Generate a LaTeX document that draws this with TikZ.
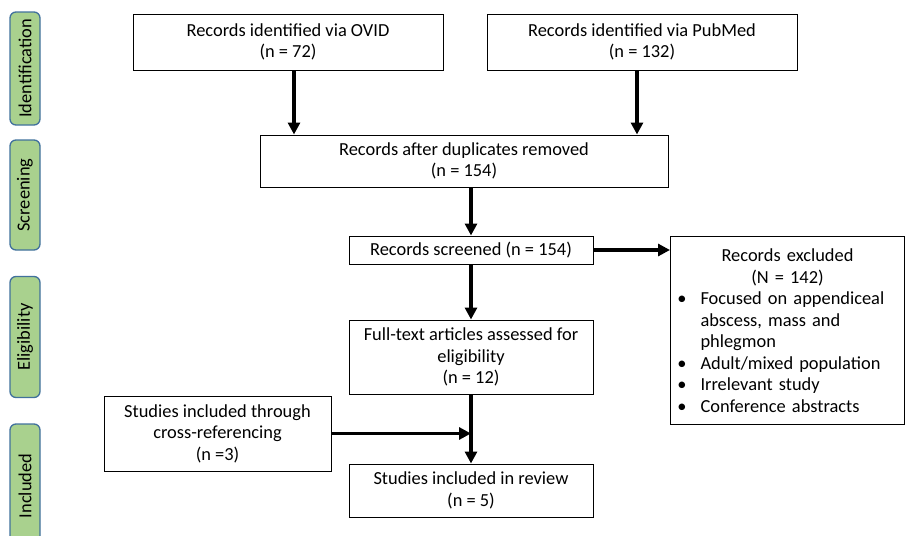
\documentclass[tikz,border=0pt]{standalone}
\usepackage{fontspec}
\setmainfont{Carlito}
\usepackage{enumitem}
\usetikzlibrary{positioning,arrows.meta}
\definecolor{prismaPhaseFill}{HTML}{A9D18E}
\definecolor{prismaPhaseLine}{HTML}{41719C}
\tikzset{
  flow box/.style={
    rectangle, draw=black, line width=1pt, fill=white,
    align=center, inner sep=3pt,
    font=\fontsize{18.4}{21.5}\selectfont,
  },
  phase tab/.style={
    rectangle, rounded corners=6pt,
    draw=prismaPhaseLine, fill=prismaPhaseFill, line width=1.3pt,
    rotate=90, minimum height=30pt, inner sep=2pt,
    font=\fontsize{18.4}{20}\selectfont,
  },
  flow arrow/.style={
    -{Triangle[length=12pt,width=12pt]},
    line width=3.3pt,
  },
}

\begin{document}
\begin{tikzpicture}[x=1pt,y=-1pt]
\useasboundingbox (0,0) rectangle (906,536);

% --- PHASES ---
\node[phase tab, minimum width=113pt] (phId) at (25,68.5) {Identification};
\node[phase tab, minimum width=110pt] (phSc) at (25,195) {Screening};
\node[phase tab, minimum width=121pt] (phEl) at (25,337) {Eligibility};
\node[phase tab, minimum width=124pt] (phIn) at (25,486) {Included};

% --- BOXES ---
\node[flow box, minimum width=310pt, minimum height=56pt] (ovid) at (288,42)
  {Records identified via OVID\\(n = 72)};
\node[flow box, minimum width=310pt, minimum height=56pt] (pubmed) at (642,42)
  {Records identified via PubMed\\(n = 132)};
\node[flow box, minimum width=408pt, minimum height=52pt] (dedup) at (464,161)
  {Records after duplicates removed\\(n = 154)};
\node[flow box, minimum width=244pt, minimum height=28pt, inner sep=1pt] (screened) at (471,250)
  {Records screened (n = 154)};
\node[flow box, minimum width=244pt, minimum height=74pt] (fulltext) at (471,357)
  {Full-text articles assessed for\\eligibility\\(n = 12)};
\node[flow box, minimum width=227pt, minimum height=75pt] (crossref) at (217.5,433.5)
  {Studies included through\\cross-referencing\\(n =3)};
\node[flow box, minimum width=244pt, minimum height=53pt] (review) at (471,490.5)
  {Studies included in review\\(n = 5)};
\node[flow box, align=left, text width=226pt, minimum height=188pt, inner sep=4pt, anchor=north west] (excluded) at (670,236)
  {{\centering Records excluded\\(N = 142)\par}
   \begin{itemize}[nosep, leftmargin=26pt, labelsep=14pt]
   \raggedright
   \item Focused on appendiceal\newline abscess, mass and\newline phlegmon
   \item Adult/mixed population
   \item Irrelevant study
   \item Conference abstracts
   \end{itemize}};

% --- ARROWS ---
\draw[flow arrow] ([xshift=6pt]ovid.south) -- ([xshift=6pt]ovid.south |- dedup.north);
\draw[flow arrow] ([xshift=-5pt]pubmed.south) -- ([xshift=-5pt]pubmed.south |- dedup.north);
\draw[flow arrow] (screened.north |- dedup.south) -- (screened.north);
\draw[flow arrow] (screened.east) -- (screened.east -| excluded.west);
\draw[flow arrow] (screened.south) -- (fulltext.north);
\draw[flow arrow] (fulltext.south) -- (review.north);
\draw[flow arrow] (crossref.east) -- (crossref.east -| review.north);

\end{tikzpicture}
\end{document}
